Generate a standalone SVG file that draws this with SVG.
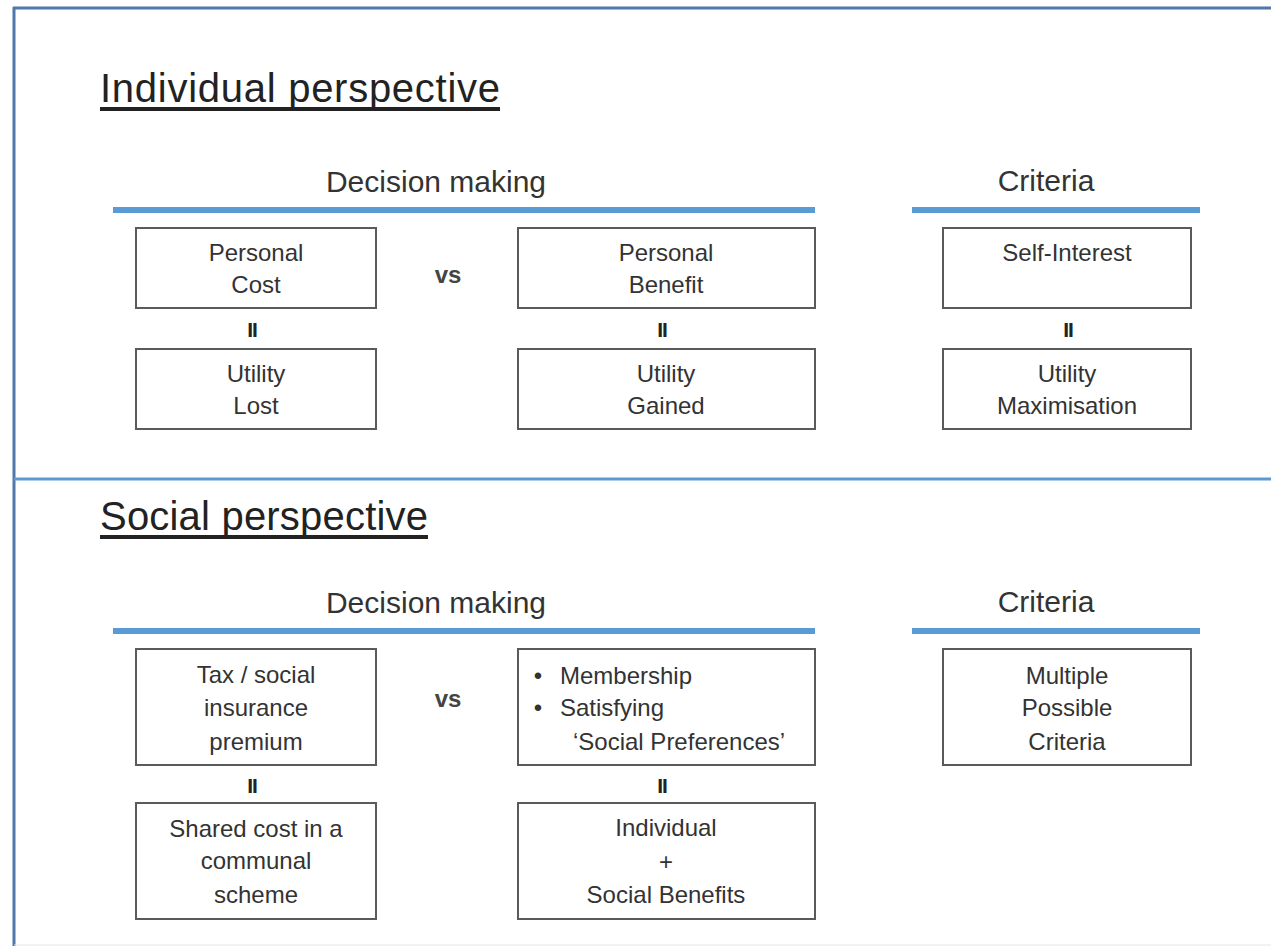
<svg xmlns="http://www.w3.org/2000/svg" width="1271" height="946" viewBox="0 0 1271 946">
<style>
text{font-family:"Liberation Sans",Arial,sans-serif;fill:#333}
.title{font-size:40px;fill:#222}
.head{font-size:30px;text-anchor:middle}
.box rect{fill:#fff;stroke:#5a5a5a;stroke-width:2}
.box text{font-size:24px;text-anchor:middle}
.eq{font-size:21px;font-weight:bold;text-anchor:middle;letter-spacing:-1px;fill:#222}
.vs{font-size:24px;font-weight:bold;text-anchor:middle;fill:#444}
.bar{stroke:#5b9bd5;stroke-width:6}
.ul{stroke:#222;stroke-width:4}
</style>
<rect width="1271" height="946" fill="#fff"/>
<g id="frame">
<line x1="14" y1="7" x2="14" y2="946" stroke="#4f79a8" stroke-width="3"/>
<line x1="13" y1="8" x2="1271" y2="8" stroke="#4f79a8" stroke-width="3"/>
<line x1="14" y1="479" x2="1271" y2="479" stroke="#5b9bd5" stroke-width="3"/>
<line x1="14" y1="945" x2="1271" y2="945" stroke="#e6e6e6" stroke-width="1"/>
</g>
<g id="individual-title">
<text class="title" x="100" y="102" textLength="400" lengthAdjust="spacing">Individual perspective</text>
<line class="ul" x1="100" y1="109" x2="500" y2="109"/>
</g>
<g id="ind-heads">
<text class="head" x="436" y="192">Decision making</text>
<line class="bar" x1="113" y1="210" x2="815" y2="210"/>
<text class="head" x="1046" y="191">Criteria</text>
<line class="bar" x1="912" y1="210" x2="1200" y2="210"/>
</g>
<g id="personal-cost" class="box"><rect x="136" y="228" width="240" height="80"/><text x="256" y="261">Personal</text><text x="256" y="293">Cost</text></g>
<g id="personal-benefit" class="box"><rect x="518" y="228" width="297" height="80"/><text x="666" y="261">Personal</text><text x="666" y="293">Benefit</text></g>
<g id="self-interest" class="box"><rect x="943" y="228" width="248" height="80"/><text x="1067" y="261">Self-Interest</text></g>
<g id="utility-lost" class="box"><rect x="136" y="349" width="240" height="80"/><text x="256" y="382">Utility</text><text x="256" y="414">Lost</text></g>
<g id="utility-gained" class="box"><rect x="518" y="349" width="297" height="80"/><text x="666" y="382">Utility</text><text x="666" y="414">Gained</text></g>
<g id="utility-max" class="box"><rect x="943" y="349" width="248" height="80"/><text x="1067" y="382">Utility</text><text x="1067" y="414">Maximisation</text></g>
<g id="connectors">
<text class="vs" x="448" y="283">vs</text>
<text class="eq" x="252" y="337">II</text>
<text class="eq" x="662" y="337">II</text>
<text class="eq" x="1068" y="337">II</text>
<text class="vs" x="448" y="707">vs</text>
<text class="eq" x="252" y="793">II</text>
<text class="eq" x="662" y="793">II</text>
</g>
<g id="social-title">
<text class="title" x="100" y="530" textLength="328" lengthAdjust="spacing">Social perspective</text>
<line class="ul" x1="100" y1="537" x2="428" y2="537"/>
</g>
<g id="soc-heads">
<text class="head" x="436" y="613">Decision making</text>
<line class="bar" x1="113" y1="631" x2="815" y2="631"/>
<text class="head" x="1046" y="612">Criteria</text>
<line class="bar" x1="912" y1="631" x2="1200" y2="631"/>
</g>
<g id="tax" class="box"><rect x="136" y="649" width="240" height="116"/><text x="256" y="683">Tax / social</text><text x="256" y="716">insurance</text><text x="256" y="750">premium</text></g>
<g id="membership" class="box"><rect x="518" y="649" width="297" height="116"/>
<text x="538" y="684" style="text-anchor:middle">•</text><text x="560" y="684" style="text-anchor:start">Membership</text>
<text x="538" y="716" style="text-anchor:middle">•</text><text x="560" y="716" style="text-anchor:start">Satisfying</text>
<text x="573" y="750" style="text-anchor:start">‘Social Preferences’</text></g>
<g id="multiple" class="box"><rect x="943" y="649" width="248" height="116"/><text x="1067" y="684">Multiple</text><text x="1067" y="716">Possible</text><text x="1067" y="750">Criteria</text></g>
<g id="shared" class="box"><rect x="136" y="803" width="240" height="116"/><text x="256" y="837">Shared cost in a</text><text x="256" y="869">communal</text><text x="256" y="903">scheme</text></g>
<g id="individual-social" class="box"><rect x="518" y="803" width="297" height="116"/><text x="666" y="836">Individual</text><text x="666" y="870">+</text><text x="666" y="903">Social Benefits</text></g>
</svg>
